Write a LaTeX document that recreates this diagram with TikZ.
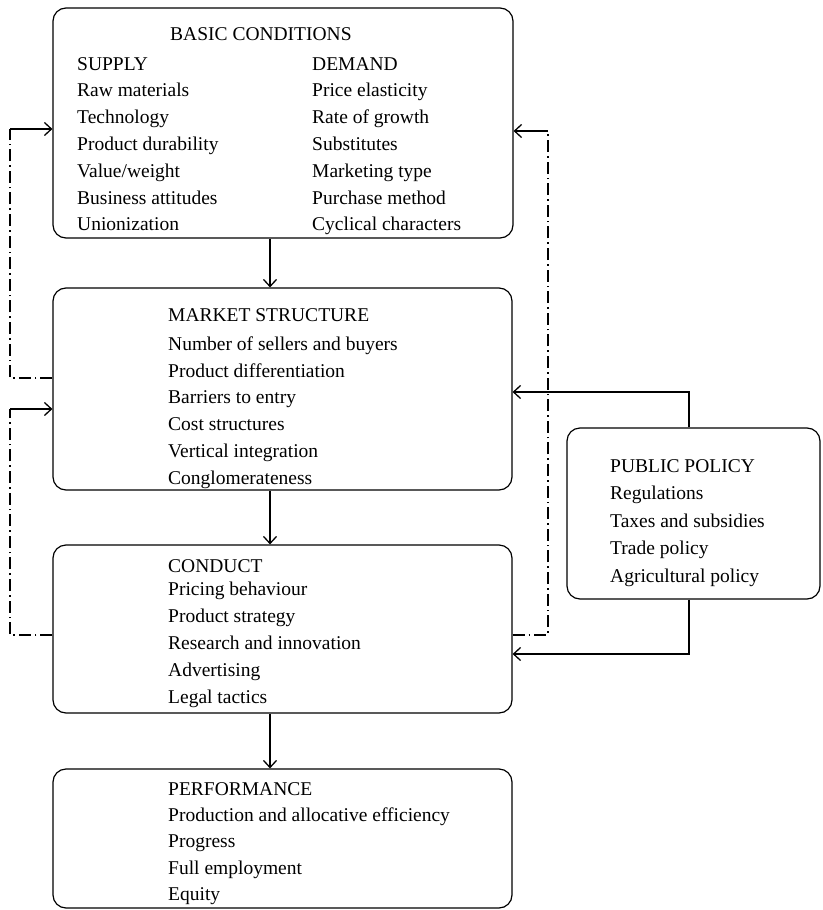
\documentclass[tikz,border=0pt]{standalone}
\usepackage{fontspec}
\setmainfont{Liberation Serif}
\usetikzlibrary{arrows.meta}
\begin{document}
\begin{tikzpicture}[x=1pt,y=-1pt,
  box/.style={draw, line width=1.2pt, rounded corners=13pt, inner sep=0pt},
  txt/.style={anchor=base west, inner sep=0pt, font=\fontsize{19.5}{24}\selectfont},
  arr/.style={-{Straight Barb[length=7pt,width=13pt,line width=1.3pt]}, line width=1.1pt},
  dd/.style={line width=1.1pt, dash pattern=on 12pt off 4pt on 1.6pt off 4pt}]
\useasboundingbox (0,0) rectangle (822,910);

% boxes
\node[box, minimum width=460pt, minimum height=230pt] (bc) at (283,123) {};
\node[box, minimum width=459pt, minimum height=202pt] (ms) at (282.5,389) {};
\node[box, minimum width=459pt, minimum height=168pt] (cd) at (282.5,629) {};
\node[box, minimum width=459pt, minimum height=139pt] (pf) at (282.5,838.5) {};
\node[box, minimum width=253pt, minimum height=171pt] (pp) at (693.5,513.5) {};

% basic conditions text
\node[txt] (bct) at (170,40) {BASIC CONDITIONS};
\node[txt] (sup) at (77,70) {SUPPLY};
\node[txt] (dem) at (312,70) {DEMAND};
\foreach \t [count=\i] in {Raw materials, Technology, Product durability, Value/weight, Business attitudes, Unionization}
  \node[txt] (s\i) at (77,{70+26.8*\i}) {\t};
\foreach \t [count=\i] in {Price elasticity, Rate of growth, Substitutes, Marketing type, Purchase method, Cyclical characters}
  \node[txt] (d\i) at (312,{70+26.8*\i}) {\t};

% market structure
\node[txt] (mst) at (168,321) {MARKET STRUCTURE};
\foreach \t [count=\i] in {Number of sellers and buyers, Product differentiation, Barriers to entry, Cost structures, Vertical integration, Conglomerateness}
  \node[txt] (m\i) at (168,{323.5+26.8*\i}) {\t};

% conduct
\node[txt] (cdt) at (168,572) {CONDUCT};
\foreach \t [count=\i] in {Pricing behaviour, Product strategy, Research and innovation, Advertising, Legal tactics}
  \node[txt] (c\i) at (168,{568+27*\i}) {\t};

% performance
\node[txt] (pft) at (168,795) {PERFORMANCE};
\foreach \t [count=\i] in {Production and allocative efficiency, Progress, Full employment, Equity}
  \node[txt] (p\i) at (168,{795+26.4*\i}) {\t};

% public policy
\node[txt] (ppt) at (610,472) {PUBLIC POLICY};
\foreach \t [count=\i] in {Regulations, Taxes and subsidies, Trade policy, Agricultural policy}
  \node[txt] (q\i) at (610,{472+27.5*\i}) {\t};

% coordinates
\coordinate (ax) at (270,0);
\coordinate (L1a) at (10,378);
\coordinate (L1b) at (10,129);
\coordinate (L2a) at (10,635);
\coordinate (L2b) at (10,409);
\coordinate (R1a) at (548,635);
\coordinate (R1b) at (548,131);
\coordinate (P1) at (689,392);
\coordinate (P2) at (689,654);

% main vertical arrows
\draw[arr] (bc.south -| ax) -- (ms.north -| ax);
\draw[arr] (ms.south -| ax) -- (cd.north -| ax);
\draw[arr] (cd.south -| ax) -- (pf.north -| ax);

% left feedback loops
\draw[dd] (ms.west |- L1a) -- (L1a) -- (L1b);
\draw[arr] (L1b) -- (bc.west |- L1b);
\draw[dd] (cd.west |- L2a) -- (L2a) -- (L2b);
\draw[arr] (L2b) -- (ms.west |- L2b);

% right feedback loop
\draw[dd] (cd.east |- R1a) -- (R1a) -- (R1b);
\draw[arr] (R1b) -- (bc.east |- R1b);

% public policy
\draw[arr] (pp.north -| P1) -- (P1) -- (ms.east |- P1);
\draw[arr] (pp.south -| P2) -- (P2) -- (cd.east |- P2);
\end{tikzpicture}
\end{document}
